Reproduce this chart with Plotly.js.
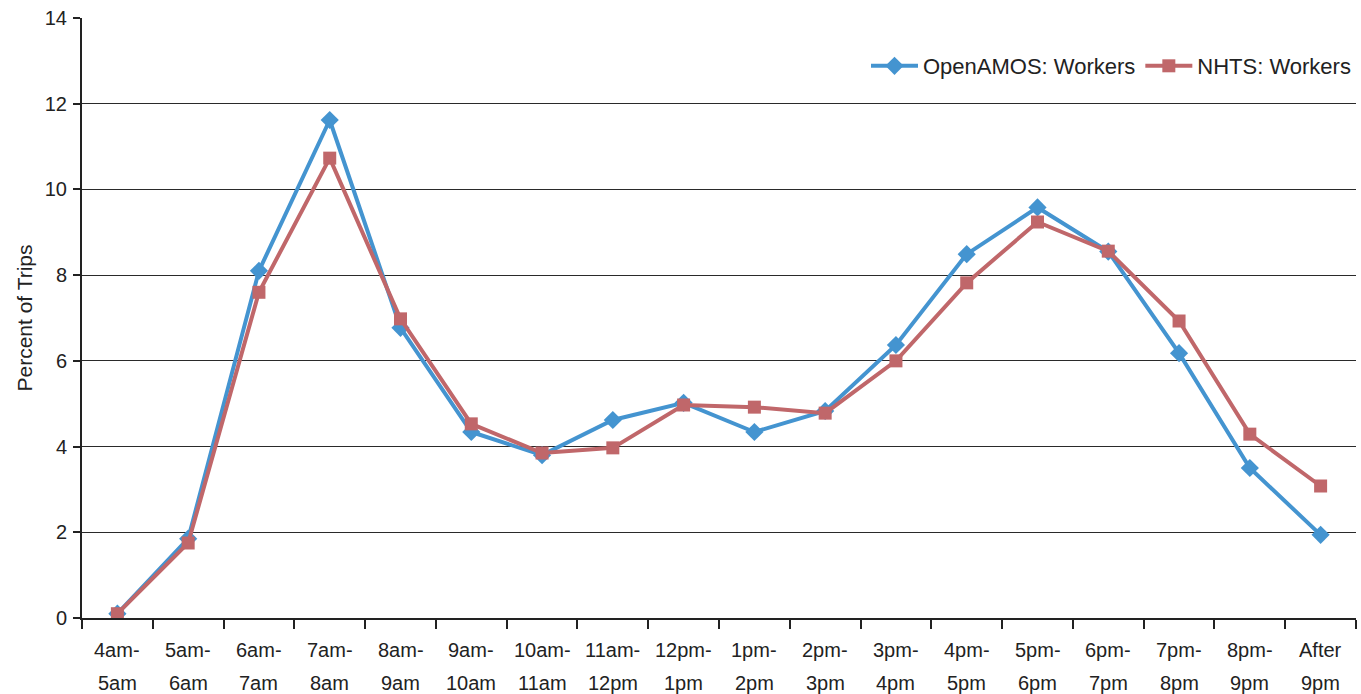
<!DOCTYPE html>
<html>
<head>
<meta charset="utf-8">
<script src="https://cdn.plot.ly/plotly-3.0.1.min.js"></script>
<style>html,body{margin:0;padding:0;background:#fff;}#chart{width:1361px;height:694px;}</style>
</head>
<body>
<div id="chart"></div>
<script>
const categories = ["4am-5am","5am-6am","6am-7am","7am-8am","8am-9am","9am-10am","10am-11am","11am-12pm","12pm-1pm","1pm-2pm","2pm-3pm","3pm-4pm","4pm-5pm","5pm-6pm","6pm-7pm","7pm-8pm","8pm-9pm","After 9pm"];
const labelLine1 = ["4am-","5am-","6am-","7am-","8am-","9am-","10am-","11am-","12pm-","1pm-","2pm-","3pm-","4pm-","5pm-","6pm-","7pm-","8pm-","After"];
const labelLine2 = ["5am","6am","7am","8am","9am","10am","11am","12pm","1pm","2pm","3pm","4pm","5pm","6pm","7pm","8pm","9pm","9pm"];
const openAMOS = [0.1, 1.85, 8.1, 11.62, 6.77, 4.34, 3.8, 4.62, 5.02, 4.34, 4.83, 6.37, 8.49, 9.58, 8.55, 6.18, 3.5, 1.94];
const nhts = [0.1, 1.75, 7.6, 10.73, 6.98, 4.53, 3.85, 3.97, 4.97, 4.92, 4.78, 6.0, 7.82, 9.24, 8.56, 6.93, 4.29, 3.08];
const yTicks = [0, 2, 4, 6, 8, 10, 12, 14];

const blue = '#4494d0';
const red = '#c0676a';
const textColor = '#222';

const traces = [
  {x: categories, y: openAMOS, name: 'OpenAMOS: Workers', type: 'scatter', mode: 'lines+markers',
   line: {color: blue, width: 4}, marker: {symbol: 'diamond', size: 14, color: blue}},
  {x: categories, y: nhts, name: 'NHTS: Workers', type: 'scatter', mode: 'lines+markers',
   line: {color: red, width: 4}, marker: {symbol: 'square', size: 13, color: red}}
];

const annotations = [];
categories.forEach((c, i) => {
  annotations.push({x: c, xref: 'x', y: 0, yref: 'paper', yanchor: 'middle', yshift: -32,
    text: labelLine1[i], showarrow: false, font: {size: 20, color: textColor}});
  annotations.push({x: c, xref: 'x', y: 0, yref: 'paper', yanchor: 'middle', yshift: -65,
    text: labelLine2[i], showarrow: false, font: {size: 20, color: textColor}});
});

const layout = {
  width: 1361, height: 694,
  margin: {l: 82, r: 5, t: 18, b: 76},
  paper_bgcolor: '#fff', plot_bgcolor: '#fff',
  font: {family: 'Liberation Sans, Arial, sans-serif', size: 20, color: textColor},
  showlegend: true,
  legend: {orientation: 'h', x: 1, xanchor: 'right', y: 0.92, yanchor: 'middle', itemwidth: 47,
           font: {size: 22, color: textColor}, bgcolor: 'rgba(0,0,0,0)', tracegroupgap: 0},
  annotations: annotations,
  xaxis: {type: 'category', categoryorder: 'array', categoryarray: categories,
          tickson: 'boundaries', ticks: 'outside', ticklen: 9, tickwidth: 2, tickcolor: textColor,
          showticklabels: false,
          showline: true, linecolor: textColor, linewidth: 2, showgrid: false,
          range: [-0.5, 17.5], fixedrange: true},
  yaxis: {range: [0, 14], tickmode: 'array', tickvals: yTicks, ticks: 'outside', ticklen: 7, tickwidth: 2, tickcolor: textColor,
          ticklabelstandoff: 2,
          showline: true, linecolor: textColor, linewidth: 2, showgrid: true, gridcolor: '#2a2a2a', gridwidth: 1.2,
          zeroline: false, tickfont: {size: 20, color: textColor},
          title: {text: 'Percent of Trips', font: {size: 21, color: textColor}, standoff: 6}, fixedrange: true}
};

Plotly.newPlot('chart', traces, layout, {displayModeBar: false, staticPlot: true});
</script>
</body>
</html>
